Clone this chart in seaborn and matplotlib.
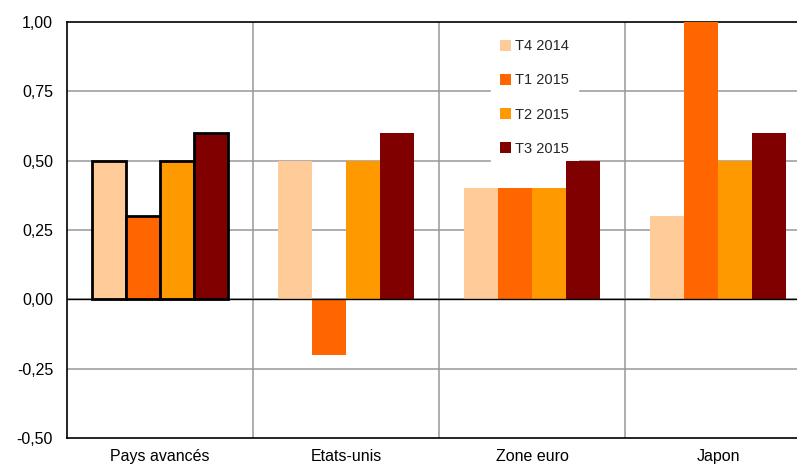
import numpy as np
import pandas as pd
import matplotlib
matplotlib.use("Agg")
import matplotlib.pyplot as plt
import seaborn as sns

categories = ["Pays avancés", "Etats-unis", "Zone euro", "Japon"]
periods = ["T4 2014", "T1 2015", "T2 2015", "T3 2015"]
t4_2014 = [0.5, 0.5, 0.4, 0.3]
t1_2015 = [0.3, -0.2, 0.4, 1.0]
t2_2015 = [0.5, 0.5, 0.4, 0.5]
t3_2015 = [0.6, 0.6, 0.5, 0.6]
colors = ["#FFCC99", "#FF6600", "#FF9900", "#800000"]
yticks = [-0.5, -0.25, 0.0, 0.25, 0.5, 0.75, 1.0]

rows = []
for p, vals in zip(periods, [t4_2014, t1_2015, t2_2015, t3_2015]):
    for c, v in zip(categories, vals):
        rows.append({"zone": c, "periode": p, "valeur": v})
df = pd.DataFrame(rows)

sns.set_style("white")
plt.rcParams["font.family"] = ["Liberation Sans", "DejaVu Sans"]

fig = plt.figure(figsize=(7.97, 4.68), dpi=100, facecolor="white")
ax = fig.add_axes([67 / 797, 1 - 438 / 468, (811 - 67) / 797, (438 - 22) / 468])

sns.barplot(data=df, x="zone", y="valeur", hue="periode", order=categories,
            hue_order=periods, palette=colors, width=0.73, gap=0,
            saturation=1, ax=ax, linewidth=0, zorder=3)

# black outline on the first group (Pays avancés)
for cont in ax.containers:
    cont[0].set_edgecolor("black")
    cont[0].set_linewidth(2)

ax.set_ylim(-0.5, 1.0)
ax.set_xlim(-0.5, len(categories) - 0.5)
ax.set_yticks(yticks)
ax.set_yticklabels([f"{v:.2f}".replace(".", ",") for v in yticks])
for y in yticks[1:-1]:
    ax.axhline(y, color="#999999", lw=1.1, zorder=1)
ax.axhline(0, color="black", lw=1, zorder=4)
for x in np.arange(0.5, len(categories) - 0.5, 1):
    ax.axvline(x, color="#999999", lw=1.1, zorder=1)

ax.set_xlabel("")
ax.set_ylabel("")
ax.tick_params(axis="both", length=0, labelsize=11.5, colors="black")
ax.tick_params(axis="y", pad=10)
ax.tick_params(axis="x", pad=8)
for s in ["top", "left", "bottom"]:
    ax.spines[s].set_color("black")
    ax.spines[s].set_linewidth(1.2)
ax.spines["right"].set_visible(False)

# legend sits above the gridlines but under the bars
leg = ax.legend(loc="upper left", bbox_to_anchor=(0.560, 0.997), frameon=True,
                facecolor="white", edgecolor="white", framealpha=1,
                fontsize=10.5, labelspacing=1.38, handlelength=0.75,
                handleheight=0.75, handletextpad=0.3, borderpad=0.6)
leg.set_zorder(2)

fig.savefig("out.png", dpi=100, facecolor="white")
